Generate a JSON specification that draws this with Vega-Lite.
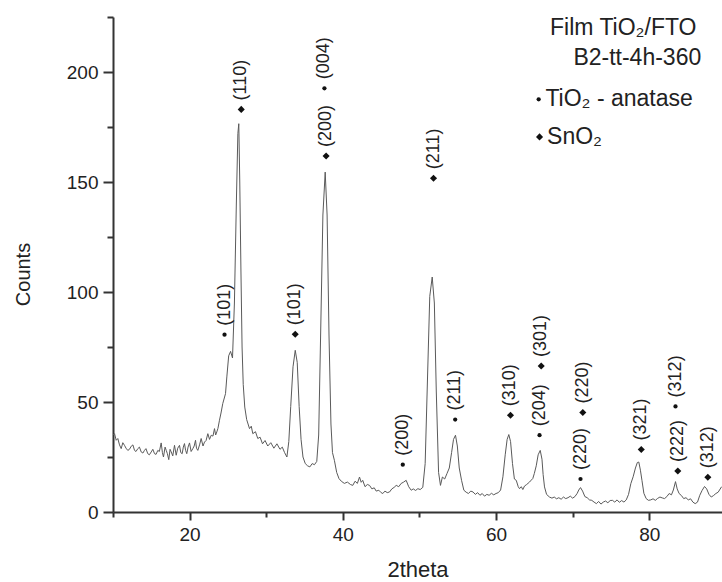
{
  "$schema": "https://vega.github.io/schema/vega-lite/v6.json",
  "autosize": {"type": "none"},
  "padding": {"left": 113, "top": 17, "right": 0, "bottom": 70},
  "width": 609,
  "height": 495,
  "background": "white",
  "config": {
    "view": {"stroke": null},
    "font": "Liberation Sans",
    "axis": {
      "grid": false,
      "domainColor": "#333",
      "domainWidth": 2,
      "tickColor": "#333",
      "tickWidth": 2,
      "labelColor": "#222",
      "labelFont": "Liberation Sans",
      "labelFontSize": 19,
      "labelPadding": 5,
      "titleFont": "Liberation Sans",
      "titleFontWeight": "normal",
      "titleColor": "#222"
    }
  },
  "datasets": {
    "spec": [
      {"t":10.0,"c":34.9},{"t":10.2,"c":35.6},{"t":10.42,"c":32.6},{"t":10.63,"c":33.4},{"t":10.85,"c":30.5},{"t":11.07,"c":28.8},{"t":11.28,"c":31.5},{"t":11.5,"c":30.3},{"t":11.7,"c":29.0},{"t":11.93,"c":28.0},{"t":12.15,"c":28.5},{"t":12.38,"c":29.9},{"t":12.6,"c":30.5},{"t":12.81,"c":28.0},{"t":13.0,"c":27.5},{"t":13.24,"c":28.8},{"t":13.45,"c":29.5},{"t":13.68,"c":27.3},{"t":13.9,"c":26.8},{"t":14.11,"c":28.0},{"t":14.3,"c":28.8},{"t":14.54,"c":26.5},{"t":14.75,"c":26.0},{"t":14.99,"c":27.3},{"t":15.2,"c":28.5},{"t":15.42,"c":26.5},{"t":15.62,"c":26.2},{"t":15.85,"c":28.0},{"t":16.05,"c":27.5},{"t":16.29,"c":31.4},{"t":16.45,"c":27},{"t":16.59,"c":25.0},{"t":16.8,"c":29.5},{"t":16.95,"c":28.0},{"t":17.1,"c":26.5},{"t":17.28,"c":23.8},{"t":17.45,"c":28.5},{"t":17.6,"c":27.3},{"t":17.8,"c":25.5},{"t":18.03,"c":30.3},{"t":18.25,"c":25.8},{"t":18.45,"c":29},{"t":18.68,"c":30.3},{"t":18.85,"c":27},{"t":19.03,"c":26.5},{"t":19.18,"c":29.5},{"t":19.33,"c":31.1},{"t":19.48,"c":28},{"t":19.63,"c":26.5},{"t":19.8,"c":29.5},{"t":19.99,"c":31.4},{"t":20.2,"c":27.5},{"t":20.42,"c":28.8},{"t":20.6,"c":30},{"t":20.77,"c":32.6},{"t":20.9,"c":29},{"t":21.07,"c":28.0},{"t":21.3,"c":30.5},{"t":21.51,"c":33.4},{"t":21.75,"c":30},{"t":21.95,"c":31.8},{"t":22.15,"c":32.5},{"t":22.38,"c":35.6},{"t":22.6,"c":33},{"t":22.82,"c":34.9},{"t":23.05,"c":34.5},{"t":23.25,"c":37.9},{"t":23.4,"c":35},{"t":23.55,"c":36.4},{"t":23.7,"c":38},{"t":23.9,"c":41.7},{"t":24.1,"c":45},{"t":24.33,"c":49.3},{"t":24.69,"c":53.8},{"t":24.86,"c":61.4},{"t":25.1,"c":71},{"t":25.35,"c":73},{"t":25.6,"c":70},{"t":25.85,"c":95},{"t":26.1,"c":140},{"t":26.3,"c":172},{"t":26.42,"c":176.5},{"t":26.55,"c":150},{"t":26.7,"c":110},{"t":26.85,"c":75},{"t":27.0,"c":58},{"t":27.2,"c":47.7},{"t":27.45,"c":42},{"t":27.82,"c":37.9},{"t":28.05,"c":39},{"t":28.25,"c":35.6},{"t":28.6,"c":36.5},{"t":28.9,"c":33.4},{"t":29.2,"c":34},{"t":29.52,"c":31},{"t":29.85,"c":32.5},{"t":30.2,"c":30},{"t":30.6,"c":31.5},{"t":31.0,"c":29},{"t":31.4,"c":31},{"t":31.8,"c":28.5},{"t":32.1,"c":29.5},{"t":32.4,"c":27},{"t":32.7,"c":25},{"t":32.95,"c":32},{"t":33.2,"c":48},{"t":33.5,"c":66},{"t":33.79,"c":73.5},{"t":34.05,"c":68},{"t":34.3,"c":48},{"t":34.55,"c":33},{"t":34.8,"c":25},{"t":35.1,"c":22},{"t":35.4,"c":21},{"t":35.7,"c":20.5},{"t":36.0,"c":22},{"t":36.3,"c":21.5},{"t":36.6,"c":23},{"t":36.85,"c":35},{"t":37.1,"c":80},{"t":37.4,"c":135},{"t":37.7,"c":154.5},{"t":37.95,"c":135},{"t":38.2,"c":80},{"t":38.45,"c":40},{"t":38.65,"c":27},{"t":38.9,"c":23.5},{"t":39.2,"c":18},{"t":39.5,"c":15.2},{"t":39.8,"c":14},{"t":40.2,"c":13},{"t":40.6,"c":13.6},{"t":41.0,"c":12.5},{"t":41.3,"c":12.1},{"t":41.6,"c":14},{"t":41.9,"c":13},{"t":42.18,"c":15.9},{"t":42.4,"c":13.5},{"t":42.6,"c":14.4},{"t":42.9,"c":11.5},{"t":43.2,"c":12.5},{"t":43.49,"c":12.1},{"t":43.8,"c":10.5},{"t":44.1,"c":11},{"t":44.36,"c":9.5},{"t":44.7,"c":9.9},{"t":45.0,"c":8.8},{"t":45.22,"c":8.4},{"t":45.5,"c":9.5},{"t":45.8,"c":8.8},{"t":46.1,"c":9.1},{"t":46.4,"c":10.5},{"t":46.7,"c":11.2},{"t":46.97,"c":12.1},{"t":47.3,"c":11.5},{"t":47.62,"c":13},{"t":47.9,"c":13.5},{"t":48.27,"c":14.4},{"t":48.6,"c":11.5},{"t":48.93,"c":9.9},{"t":49.2,"c":10.5},{"t":49.5,"c":9.8},{"t":49.8,"c":10.6},{"t":50.1,"c":10.2},{"t":50.44,"c":11.2},{"t":50.75,"c":22},{"t":51.05,"c":60},{"t":51.35,"c":98},{"t":51.67,"c":106.8},{"t":51.95,"c":95},{"t":52.2,"c":55},{"t":52.5,"c":18},{"t":52.75,"c":12.1},{"t":53.0,"c":15.9},{"t":53.3,"c":15},{"t":53.6,"c":17.5},{"t":53.9,"c":20},{"t":54.2,"c":27},{"t":54.45,"c":33},{"t":54.71,"c":34.9},{"t":54.95,"c":30},{"t":55.2,"c":20},{"t":55.5,"c":14.4},{"t":55.8,"c":9.9},{"t":56.1,"c":9},{"t":56.4,"c":8.4},{"t":56.7,"c":9.5},{"t":57.0,"c":9.1},{"t":57.3,"c":8},{"t":57.6,"c":8.8},{"t":57.9,"c":7.6},{"t":58.2,"c":8.4},{"t":58.5,"c":7.2},{"t":58.8,"c":8},{"t":59.1,"c":7.6},{"t":59.4,"c":8.5},{"t":59.7,"c":7.8},{"t":60.0,"c":8.4},{"t":60.3,"c":8.8},{"t":60.6,"c":10},{"t":60.9,"c":16},{"t":61.2,"c":26},{"t":61.45,"c":33},{"t":61.67,"c":35.2},{"t":61.9,"c":32},{"t":62.15,"c":22},{"t":62.4,"c":15},{"t":62.64,"c":14.4},{"t":62.9,"c":11.5},{"t":63.07,"c":10.6},{"t":63.3,"c":11.5},{"t":63.5,"c":10.2},{"t":63.72,"c":11.8},{"t":64.0,"c":12.5},{"t":64.37,"c":13.6},{"t":64.6,"c":14.5},{"t":64.8,"c":15.2},{"t":65.0,"c":17.5},{"t":65.25,"c":21},{"t":65.5,"c":26},{"t":65.77,"c":28.0},{"t":66.0,"c":24},{"t":66.15,"c":17},{"t":66.33,"c":11.4},{"t":66.6,"c":8},{"t":66.98,"c":6.8},{"t":67.3,"c":6.3},{"t":67.6,"c":6.8},{"t":67.9,"c":6},{"t":68.2,"c":6.5},{"t":68.5,"c":5.8},{"t":68.8,"c":6.8},{"t":69.1,"c":6.1},{"t":69.4,"c":6.5},{"t":69.7,"c":7.2},{"t":70.0,"c":6.3},{"t":70.3,"c":7},{"t":70.6,"c":8.5},{"t":70.8,"c":10},{"t":71.03,"c":11.1},{"t":71.3,"c":9.5},{"t":71.6,"c":7},{"t":71.9,"c":6.5},{"t":72.2,"c":5.5},{"t":72.5,"c":5.3},{"t":72.8,"c":4.5},{"t":73.1,"c":3.8},{"t":73.4,"c":4.8},{"t":73.7,"c":3.6},{"t":74.0,"c":4.5},{"t":74.3,"c":5},{"t":74.6,"c":4.2},{"t":74.9,"c":5.2},{"t":75.2,"c":5.3},{"t":75.5,"c":4.5},{"t":75.8,"c":5.5},{"t":76.1,"c":4.4},{"t":76.4,"c":5.2},{"t":76.7,"c":4.5},{"t":77.0,"c":5.5},{"t":77.3,"c":8},{"t":77.6,"c":12.9},{"t":77.9,"c":16},{"t":78.2,"c":20},{"t":78.45,"c":22.5},{"t":78.64,"c":22.7},{"t":78.85,"c":19},{"t":79.05,"c":14.4},{"t":79.3,"c":8.5},{"t":79.6,"c":6.1},{"t":79.9,"c":5.3},{"t":80.2,"c":5.5},{"t":80.5,"c":6},{"t":80.8,"c":5.3},{"t":81.1,"c":6.2},{"t":81.4,"c":6.8},{"t":81.7,"c":6.4},{"t":82.0,"c":6.1},{"t":82.3,"c":7},{"t":82.6,"c":8.4},{"t":82.9,"c":7.8},{"t":83.15,"c":10},{"t":83.43,"c":13.8},{"t":83.65,"c":10.5},{"t":83.9,"c":8.4},{"t":84.2,"c":7.5},{"t":84.5,"c":6.1},{"t":84.8,"c":6.5},{"t":85.1,"c":5.5},{"t":85.4,"c":6},{"t":85.7,"c":4.5},{"t":86.0,"c":3.8},{"t":86.3,"c":4.5},{"t":86.6,"c":7.6},{"t":86.9,"c":9.8},{"t":87.22,"c":11.6},{"t":87.5,"c":10.5},{"t":87.8,"c":8},{"t":88.1,"c":6.8},{"t":88.4,"c":7.5},{"t":88.7,"c":8.4},{"t":89.0,"c":9},{"t":89.45,"c":11.5}
    ],
    "peaks": [
      {"t":24.56,"c":80.6,"phase":"TiO2","label":"(101)"},
      {"t":26.74,"c":183.0,"phase":"SnO2","label":"(110)"},
      {"t":33.79,"c":80.8,"phase":"SnO2","label":"(101)"},
      {"t":37.6,"c":192.6,"phase":"TiO2","label":"(004)"},
      {"t":37.82,"c":161.8,"phase":"SnO2","label":"(200)"},
      {"t":47.83,"c":21.5,"phase":"TiO2","label":"(200)"},
      {"t":51.84,"c":151.7,"phase":"SnO2","label":"(211)"},
      {"t":54.67,"c":42.0,"phase":"TiO2","label":"(211)"},
      {"t":61.89,"c":44.0,"phase":"SnO2","label":"(310)"},
      {"t":65.68,"c":34.9,"phase":"TiO2","label":"(204)"},
      {"t":65.9,"c":66.4,"phase":"SnO2","label":"(301)"},
      {"t":71.03,"c":15.0,"phase":"TiO2","label":"(220)"},
      {"t":71.33,"c":45.2,"phase":"SnO2","label":"(220)"},
      {"t":78.96,"c":28.4,"phase":"SnO2","label":"(321)"},
      {"t":83.73,"c":18.6,"phase":"SnO2","label":"(222)"},
      {"t":83.43,"c":48.0,"phase":"TiO2","label":"(312)"},
      {"t":87.65,"c":15.8,"phase":"SnO2","label":"(312)"}
    ],
    "legendTitle": [
      {"t":86.17,"c":220.2,"label":"Film TiO₂/FTO"},
      {"t":86.79,"c":206.5,"label":"B2-tt-4h-360"}
    ],
    "legendItems": [
      {"t":65.57,"c":187.6,"phase":"TiO2","tt":66.45,"label":"TiO₂ - anatase"},
      {"t":65.68,"c":170.5,"phase":"SnO2","tt":66.66,"label":"SnO₂"}
    ]
  },
  "layer": [
    {
      "data": {"name": "spec"},
      "mark": {"type": "line", "color": "#5a5a5a", "strokeWidth": 1, "clip": true, "interpolate": "linear"},
      "encoding": {
        "x": {
          "field": "t", "type": "quantitative",
          "scale": {"domain": [10, 89.5], "nice": false, "zero": false},
          "axis": {
            "title": "2theta",
            "titleFontSize": 22,
            "titlePadding": 15,
            "values": [10, 20, 30, 40, 50, 60, 70, 80],
            "labelExpr": "datum.value % 20 === 0 ? datum.label : ''",
            "tickSize": {"condition": {"test": "datum.value % 20 === 0", "value": 8}, "value": 5},
            "labelFlush": false
          }
        },
        "y": {
          "field": "c", "type": "quantitative",
          "scale": {"domain": [0, 225], "nice": false},
          "axis": {
            "title": "Counts",
            "titleFontSize": 20,
            "titlePadding": 33,
            "titleY": 257,
            "values": [0, 25, 50, 75, 100, 125, 150, 175, 200, 225],
            "labelExpr": "datum.value % 50 === 0 ? datum.label : ''",
            "tickSize": {"condition": {"test": "datum.value % 50 === 0", "value": 10}, "value": 6}
          }
        }
      }
    },
    {
      "data": {"name": "peaks"},
      "mark": {"type": "point", "filled": true, "color": "#111", "opacity": 1},
      "encoding": {
        "x": {"field": "t", "type": "quantitative"},
        "y": {"field": "c", "type": "quantitative"},
        "shape": {"field": "phase", "type": "nominal", "scale": {"domain": ["TiO2", "SnO2"], "range": ["circle", "diamond"]}, "legend": null},
        "size": {"field": "phase", "type": "nominal", "scale": {"domain": ["TiO2", "SnO2"], "range": [18, 50]}, "legend": null}
      }
    },
    {
      "data": {"name": "peaks"},
      "mark": {"type": "text", "angle": 270, "align": "left", "baseline": "middle", "dx": 9, "fontSize": 18, "font": "Liberation Sans", "color": "#222"},
      "encoding": {
        "x": {"field": "t", "type": "quantitative"},
        "y": {"field": "c", "type": "quantitative"},
        "text": {"field": "label"}
      }
    },
    {
      "data": {"name": "legendTitle"},
      "mark": {"type": "text", "align": "right", "baseline": "middle", "fontSize": 23, "font": "Liberation Sans", "color": "#222"},
      "encoding": {
        "x": {"field": "t", "type": "quantitative"},
        "y": {"field": "c", "type": "quantitative"},
        "text": {"field": "label"}
      }
    },
    {
      "data": {"name": "legendItems"},
      "mark": {"type": "point", "filled": true, "color": "#111", "opacity": 1},
      "encoding": {
        "x": {"field": "t", "type": "quantitative"},
        "y": {"field": "c", "type": "quantitative"},
        "shape": {"field": "phase", "type": "nominal", "scale": {"domain": ["TiO2", "SnO2"], "range": ["circle", "diamond"]}, "legend": null},
        "size": {"field": "phase", "type": "nominal", "scale": {"domain": ["TiO2", "SnO2"], "range": [18, 50]}, "legend": null}
      }
    },
    {
      "data": {"name": "legendItems"},
      "mark": {"type": "text", "align": "left", "baseline": "middle", "fontSize": 23, "font": "Liberation Sans", "color": "#222"},
      "encoding": {
        "x": {"field": "tt", "type": "quantitative"},
        "y": {"field": "c", "type": "quantitative"},
        "text": {"field": "label"}
      }
    }
  ]
}
